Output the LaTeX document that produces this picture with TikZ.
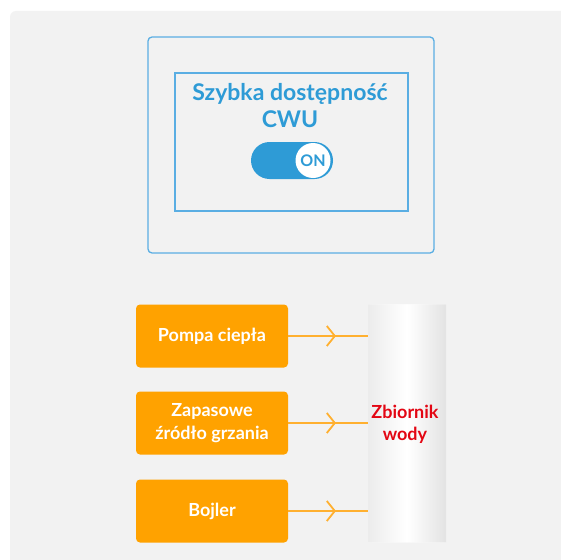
\documentclass[tikz,border=0pt]{standalone}
\usepackage{fontspec}
\setmainfont{Lato}
\usepackage{tikz}
\usetikzlibrary{shapes,arrows.meta,positioning,calc,decorations.markings}

\definecolor{tlo}{HTML}{F2F2F2}
\definecolor{niebieski}{HTML}{2E9BD6}
\definecolor{ramka}{HTML}{5AAEE3}
\definecolor{pomarancz}{HTML}{FFA200}
\definecolor{linia}{HTML}{FFB030}
\definecolor{czerwony}{HTML}{E30613}

\tikzset{
  zrodlo/.style={rectangle,rounded corners=4pt,fill=pomarancz,text=white,
    minimum width=152pt,minimum height=63pt,align=center,
    font=\fontsize{18}{23}\selectfont\bfseries},
  flow/.style={draw=linia,line width=1.8pt,postaction={decorate},
    decoration={markings,mark=at position 0.6 with
      {\arrow[linia,line width=1.8pt]{Straight Barb[length=8pt,width=20pt]}}}}
}

\begin{document}
\begin{tikzpicture}[x=1pt,y=-1pt]
    \useasboundingbox (0,0) rectangle (561,559);
    \clip (0,0) rectangle (561,559);
    \fill[white] (0,0) rectangle (561,559);
    % tlo
    \fill[tlo,rounded corners=6pt] (10,11) rectangle (580,580);

    % panel
    \draw[ramka,line width=1.3pt,rounded corners=4pt] (148,37) rectangle (434,253);
    \draw[ramka,line width=1.3pt] (175,73) rectangle (408,211);
    \node[text=niebieski,align=center,font=\fontsize{23}{27}\selectfont\bfseries] (title) at (290,105.5)
        {Szybka dostępność\\CWU};

    % przelacznik
    \node[rectangle,rounded corners=18.5pt,fill=niebieski,minimum width=82pt,minimum height=37pt,inner sep=0pt] (toggle) at (292,160.5) {};
    \node[circle,fill=white,minimum size=35pt,inner sep=0pt] (knob) at (313,160.5) {};
    \node[text=niebieski,font=\fontsize{16}{18}\selectfont\bfseries] (on) at (knob) {ON};

    % zrodla ciepla
    \node[zrodlo] (pompa) at (212,336) {Pompa ciepła};
    \node[zrodlo] (zapas) at (212,423) {Zapasowe\\źródło grzania};
    \node[zrodlo] (bojler) at (212,511) {Bojler};

    % zbiornik
    \node[cylinder,shape border rotate=90,aspect=0.1,minimum width=78pt,minimum height=238pt,
        inner sep=0pt,cylinder uses custom fill,cylinder body fill=white,cylinder end fill=white,
        left color=gray!15,right color=gray!22,middle color=white] (zbiornik) at (407,423.5) {};
    \node[text=czerwony,align=center,font=\fontsize{18}{22}\selectfont\bfseries] (napis) at (405,424)
        {Zbiornik\\wody};

    % polaczenia
    \draw[flow] (pompa.east) -- (pompa -| zbiornik.west);
    \draw[flow] (zapas.east) -- (zapas -| zbiornik.west);
    \draw[flow] (bojler.east) -- (bojler -| zbiornik.west);
\end{tikzpicture}
\end{document}
